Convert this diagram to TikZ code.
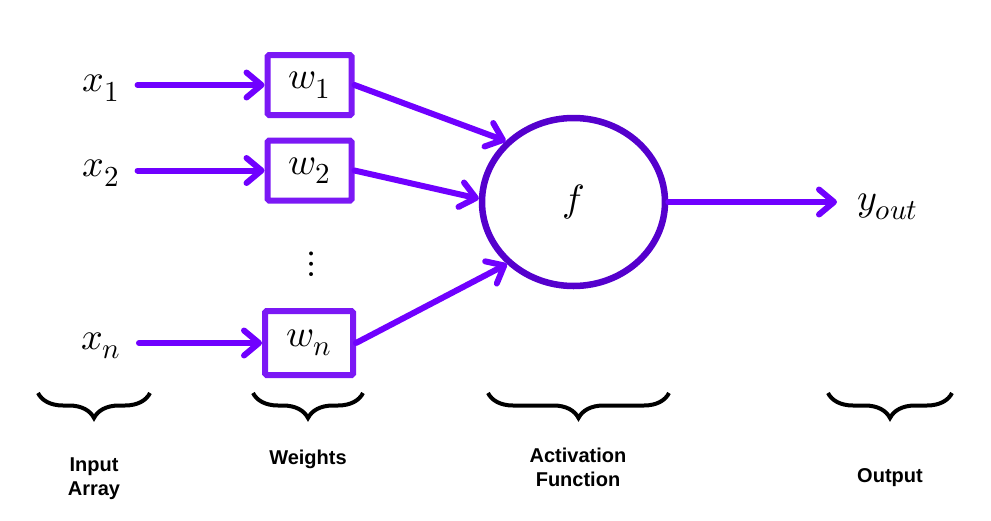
\documentclass[tikz,border=0pt]{standalone}
\usepackage{fontspec}
\usepackage{unicode-math}
\setmathfont{Latin Modern Math}
\setsansfont{Liberation Sans}
\DeclareMathSizes{38}{38}{29}{22}
\usetikzlibrary{arrows.meta,decorations.pathreplacing,shapes.geometric}
\definecolor{arrc}{RGB}{112,0,255}
\definecolor{boxc}{RGB}{123,24,245}
\definecolor{circc}{RGB}{85,0,205}
\begin{document}
\begin{tikzpicture}[x=1pt,y=-1pt,
 mathlab/.style={inner sep=0pt, font=\fontsize{38}{38}\selectfont},
 wbox/.style={draw=boxc, line width=6pt, rounded corners=1.5pt, minimum width=84pt, minimum height=60pt, inner sep=0pt, font=\fontsize{38}{38}\selectfont},
 fnode/.style={ellipse, draw=circc, line width=6.5pt, minimum width=183pt, minimum height=168pt, inner sep=0pt, font=\fontsize{38}{38}\selectfont},
 arr/.style={draw=arrc, line width=6pt, line cap=round, -{Straight Barb[length=15pt,width=25pt,line cap=round,line join=round]}},
 brc/.style={draw=black, line width=4pt, decorate, decoration={brace, amplitude=25pt, aspect=0.5}},
 captxt/.style={font=\sffamily\bfseries\fontsize{20}{24}\selectfont, align=center, inner sep=0pt}]
\useasboundingbox (0,0) rectangle (991,520);
% input labels
\node[mathlab] (x1) at (101,88) {$x_1$};
\node[mathlab] (x2) at (101,173) {$x_2$};
\node[mathlab] (xn) at (101,346) {$x_n$};
% weight boxes
\node[wbox] (w1) at (309.5,85) {$w_1$};
\node[wbox] (w2) at (309.5,170.5) {$w_2$};
\node[wbox, minimum width=88pt, minimum height=64pt] (wn) at (309,343) {$w_n$};
\node[inner sep=0pt, font=\fontsize{37}{37}\selectfont] (dots) at (312,264) {$\vdots$};
% activation
\node[fnode] (f) at (573.5,202) {$f$};
\node[mathlab, anchor=west] (yout) at (857,207) {$y_{out}$};
% connectors
\draw[arr] ([xshift=18pt]x1.east |- w1.west) -- (w1.west);
\draw[arr] ([xshift=18pt]x2.east |- w2.west) -- (w2.west);
\draw[arr] ([xshift=18pt]xn.east |- wn.west) -- (wn.west);
\draw[arr] (w1.east) -- (f.138);
\draw[arr] (w2.east) -- (f.178);
\draw[arr] (wn.east) -- (f.223);
\draw[arr] (f.east) -- ([xshift=-20pt]yout.west |- f.east);
% braces
\draw[brc] (150,393) -- (38,393);
\draw[brc] (363,393) -- (253,393);
\draw[brc] (669,393) -- (488,393);
\draw[brc] (952,393) -- (828,393);
% captions
\node[captxt] (c1) at (94,479) {Input\\Array};
\node[captxt] (c2) at (308,459) {Weights};
\node[captxt] (c3) at (578,467) {Activation\\Function};
\node[captxt] (c4) at (890,478) {Output};
\end{tikzpicture}
\end{document}
